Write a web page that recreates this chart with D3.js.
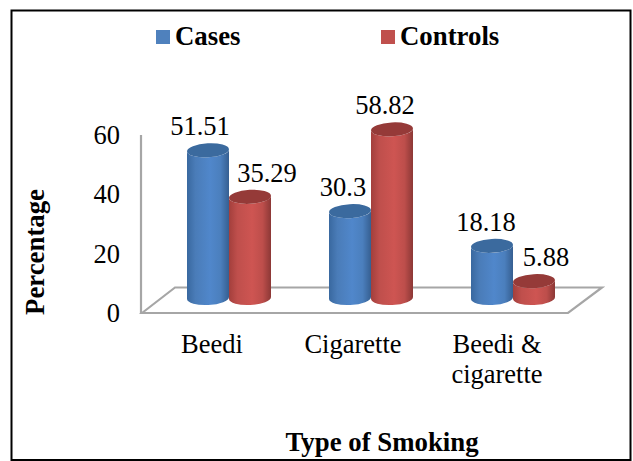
<!DOCTYPE html>
<html>
<head>
<meta charset="utf-8">
<style>
  html, body { margin: 0; padding: 0; background: #fff; }
  svg { display: block; }
  text { font-family: "Liberation Serif", "Times New Roman", serif; fill: #000; }
</style>
<script src="https://cdn.jsdelivr.net/npm/d3@7"></script>
</head>
<body>
<svg id="chart" width="633" height="461"></svg>
<script>
// Smoking type by study group, in percent
const categories = ["Beedi", "Cigarette", "Beedi &\ncigarette"];
const seriesNames = ["Cases", "Controls"];
const casesValues = [51.51, 30.3, 18.18];
const controlsValues = [35.29, 58.82, 5.88];
const valueLabels = [["51.51", "30.3", "18.18"], ["35.29", "58.82", "5.88"]];
const yTicks = [0, 20, 40, 60];

const svg = d3.select("#chart");
const defs = svg.append("defs");

const palette = [
  { side: ["#39689f", "#4a7cb8", "#5087cb", "#4b7fbd", "#365f91"], top: "#3b6a9e", key: "#4f81bd" },
  { side: ["#a33f3c", "#bf4f4c", "#ce5552", "#bd4e4b", "#8c3836"], top: "#953a38", key: "#c0504d" }
];

// Horizontal shading that gives the columns their round look
palette.forEach((p, i) => {
  const g = defs.append("linearGradient").attr("id", "side" + i)
    .attr("x1", "0%").attr("x2", "100%").attr("y1", "0%").attr("y2", "0%");
  [0, 0.2, 0.55, 0.8, 1].forEach((o, k) =>
    g.append("stop").attr("offset", o).attr("stop-color", p.side[k]));
});

const fontSize = 26.5;

// Outer frame
svg.append("rect").attr("x", 11.5).attr("y", 10.5).attr("width", 619).attr("height", 449.5)
  .attr("fill", "#fff").attr("stroke", "#000").attr("stroke-width", 2);

// Value axis on the front corner of the floor
const axisY = d3.scaleLinear().domain([0, 60]).range([313, 135]);
const groupX = d3.scaleBand().domain(d3.range(categories.length)).range([142, 568]).padding(0);
const barX = d3.scaleBand().domain([0, 1]).range([0, 84]);

// Column height above the floor
const barH = d3.scaleLinear().domain([0, 60]).range([0, 172]);
const baseY = 298, ry = 7, tilt = -3;
const tiltRise = 1.1;

// Floor and wall edge
const grey = "#a6a6a6";
svg.append("path").attr("d", "M142,313 L175,287.5 L602,287.5 L568,313 Z")
  .attr("fill", "#fff").attr("stroke", grey).attr("stroke-width", 2.2);
svg.append("line").attr("x1", 141).attr("x2", 141).attr("y1", axisY(60)).attr("y2", axisY(0))
  .attr("stroke", grey).attr("stroke-width", 2.2);

// Tick labels
svg.append("g").selectAll("text").data(yTicks).join("text")
  .attr("x", 120).attr("y", d => axisY(d) + 9)
  .attr("text-anchor", "end").attr("font-size", fontSize)
  .text(d => d);

// Columns with their value labels; labels sit off-centre to clear the neighbouring column
const centerOffset = 45;
const labelShift = [[-8, -7, -6], [17, -7, 12]];
[casesValues, controlsValues].forEach((vals, s) => {
  const g = svg.append("g");
  vals.forEach((v, i) => {
    const left = groupX(i) + centerOffset + barX(s);
    const w = barX.bandwidth();
    const rx = w / 2;
    const right = left + w;
    const top = baseY - barH(v);
    g.append("path")
      .attr("d", `M${left},${top + tiltRise} L${left},${baseY + tiltRise} A${rx},${ry} ${tilt} 0 0 ${right},${baseY - tiltRise} L${right},${top - tiltRise} A${rx},${ry} ${tilt} 0 1 ${left},${top + tiltRise} Z`)
      .attr("fill", `url(#side${s})`);
    g.append("ellipse").attr("rx", rx).attr("ry", ry)
      .attr("transform", `translate(${left + rx},${top}) rotate(${tilt})`)
      .attr("fill", palette[s].top);
    g.append("text").attr("x", left + rx + labelShift[s][i]).attr("y", top - 15)
      .attr("text-anchor", "middle").attr("font-size", fontSize)
      .text(valueLabels[s][i]);
  });
});

// Category labels, wrapped over two lines where needed
categories.forEach((c, i) => {
  const x = groupX(i) + groupX.bandwidth() / 2 + [-1, -2, 0][i];
  const t = svg.append("text").attr("text-anchor", "middle").attr("font-size", fontSize)
    .attr("y", 353);
  c.split("\n").forEach((line, k) =>
    t.append("tspan").attr("x", x).attr("dy", k ? 30 : 0).text(line));
});

// Axis titles
svg.append("text").attr("x", 382).attr("y", 451).attr("text-anchor", "middle")
  .attr("font-size", 26.8).attr("font-weight", "bold").text("Type of Smoking");
svg.append("text").attr("transform", "translate(44,252) rotate(-90)").attr("text-anchor", "middle")
  .attr("font-size", 26.8).attr("font-weight", "bold").text("Percentage");

// Legend
const legendX = [156, 381];
seriesNames.forEach((n, i) => {
  svg.append("rect").attr("x", legendX[i]).attr("y", 30).attr("width", 14).attr("height", 14)
    .attr("fill", palette[i].key);
  svg.append("text").attr("x", legendX[i] + 19).attr("y", 45)
    .attr("font-size", 26.8).attr("font-weight", "bold").text(n);
});
</script>
</body>
</html>
